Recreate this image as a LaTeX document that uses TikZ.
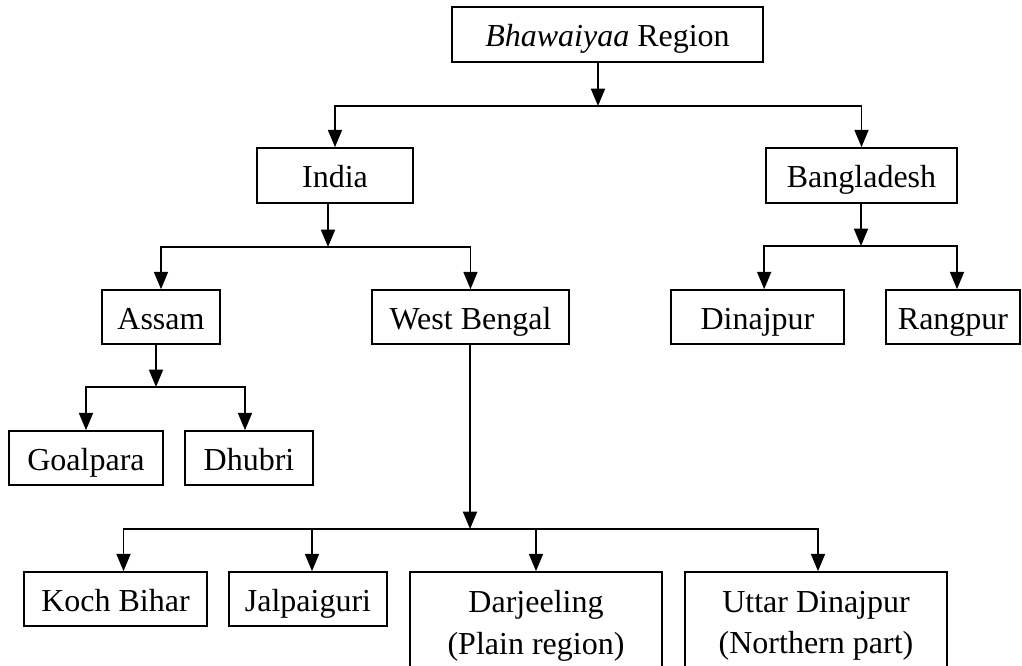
\documentclass[tikz,border=0pt]{standalone}
\usepackage{fontspec}
\setmainfont{Liberation Serif}
\usetikzlibrary{arrows.meta}
\tikzset{
  box/.style 2 args={draw, line width=1.2pt, inner sep=0pt, align=center,
    minimum width=#1*0.75pt, minimum height=#2*0.75pt,
    font=\fontsize{24}{31}\selectfont},
  one/.style={text height=18.75pt, text depth=0pt},
  arr/.style={line width=1.3pt, -{Triangle[length=13pt,width=10.5pt]}}
}
\begin{document}
\begin{tikzpicture}[x=0.75pt,y=-0.75pt]
\useasboundingbox (0,0) rectangle (1022,666);
% nodes
\node[box={311}{55}, one] (B) at (607.5,34.5) {\textit{Bhawaiyaa} Region};
\node[box={156}{55}, one] (IN) at (335,175.5) {India};
\node[box={191}{55}, one] (BD) at (861.5,175.5) {Bangladesh};
\node[box={118}{54}, one] (AS) at (161,317) {Assam};
\node[box={197}{54}, one] (WB) at (470.5,317) {West Bengal};
\node[box={173}{54}, one] (DI) at (757.5,317) {Dinajpur};
\node[box={134}{54}, one] (RA) at (953,317) {Rangpur};
\node[box={154}{54}, one] (GO) at (86,458) {Goalpara};
\node[box={128}{54}, one] (DH) at (249,458) {Dhubri};
\node[box={183}{54}, one] (KB) at (115.5,599) {Koch Bihar};
\node[box={158}{54}, one] (JA) at (308,599) {Jalpaiguri};
\node[box={252}{108}] (DA) at (536,626) {Darjeeling\\(Plain region)};
\node[box={262}{108}] (UD) at (816,626) {Uttar Dinajpur\\(Northern part)};
% junction points
\coordinate (jB) at (598,106);
\coordinate (jIN) at (328,247);
\coordinate (jBD) at (861,246);
\coordinate (jAS) at (156,387);
\coordinate (jWB) at (470,529);
% connectors
\draw[arr] (jB |- B.south) -- (jB);
\draw[arr] (jB) -| (IN.north);
\draw[arr] (jB) -| (BD.north);
\draw[arr] (jIN |- IN.south) -- (jIN);
\draw[arr] (jIN) -| (AS.north);
\draw[arr] (jIN) -| (WB.north);
\draw[arr] (jBD |- BD.south) -- (jBD);
\draw[arr] (jBD) -| ([xshift=5pt]DI.north);
\draw[arr] (jBD) -| ([xshift=3pt]RA.north);
\draw[arr] (jAS |- AS.south) -- (jAS);
\draw[arr] (jAS) -| (GO.north);
\draw[arr] (jAS) -| ([xshift=-3pt]DH.north);
\draw[arr] (jWB |- WB.south) -- (jWB);
\draw[arr] (jWB) -| ([xshift=6pt]KB.north);
\draw[arr] (jWB) -| ([xshift=3pt]JA.north);
\draw[arr] (jWB) -| (DA.north);
\draw[arr] (jWB) -| ([xshift=1.5pt]UD.north);
\end{tikzpicture}
\end{document}
